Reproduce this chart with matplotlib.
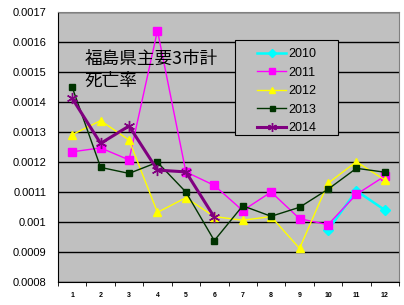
import numpy as np
import matplotlib.pyplot as plt
from matplotlib.patches import Rectangle

plt.rcParams['font.family'] = ['Liberation Sans', 'DejaVu Sans']

months = list(range(1, 13))
nan = np.nan
rate_2010 = [nan, nan, nan, nan, nan, nan, nan, nan, nan, 0.000973, 0.001104, 0.00104]
rate_2011 = [0.001234, 0.001247, 0.001207, 0.001638, 0.001167, 0.001122,
             0.001038, 0.0011, 0.001011, 0.000991, 0.001092, 0.001153]
rate_2012 = [0.001291, 0.001338, 0.001273, 0.001032, 0.001081, 0.001018,
             0.001006, 0.001018, 0.000912, 0.001129, 0.001201, 0.00114]
rate_2013 = [0.001449, 0.001182, 0.001162, 0.001199, 0.0011, 0.000938,
             0.001054, 0.001019, 0.001049, 0.001109, 0.001179, 0.001166]
rate_2014 = [0.001412, 0.001262, 0.00132, 0.001173, 0.001167, 0.001016,
             nan, nan, nan, nan, nan, nan]
y_ticks = [0.0008, 0.0009, 0.001, 0.0011, 0.0012, 0.0013, 0.0014, 0.0015, 0.0016, 0.0017]
y_labels = ['0.0008', '0.0009', '0.001', '0.0011', '0.0012', '0.0013',
            '0.0014', '0.0015', '0.0016', '0.0017']

fig = plt.figure(figsize=(4.04, 3.05), dpi=100)
ax = fig.add_axes([58 / 404, 23 / 305, 341 / 404, 270 / 305])
ax.set_facecolor('#C0C0C0')

x = np.arange(len(months))
ax.plot(x, rate_2010, color='#00FFFF', lw=1.8, marker='D', ms=5, label='2010', zorder=3)
ax.plot(x, rate_2011, color='#FF00FF', lw=1, marker='s', ms=6, label='2011', zorder=3)
ax.plot(x, rate_2012, color='#FFFF00', lw=1, marker='^', ms=6, label='2012', zorder=3)
ax.plot(x, rate_2013, color='#003300', lw=1, marker='s', ms=4.5, label='2013', zorder=3)
ax.plot(x, rate_2014, color='#800080', lw=2.2, marker=(6, 2, 0), ms=8, mew=1,
        label='2014', zorder=3)

ax.set_xlim(-0.5, 11.5)
ax.set_ylim(0.0008, 0.0017)
ax.set_yticks(y_ticks)
ax.set_yticklabels(y_labels, fontsize=8)
ax.tick_params(axis='y', length=0, pad=8.5)
ax.set_xticks(x)
ax.set_xticklabels([str(m) for m in months], fontsize=5, fontweight='bold')
ax.set_xticks(np.arange(-0.5, 12, 1), minor=True)
ax.tick_params(axis='x', which='major', length=0, pad=7)
ax.tick_params(axis='x', which='minor', length=3, direction='out')
ax.grid(axis='y', color='black', lw=1, zorder=1)

for side in ['top', 'right']:
    ax.spines[side].set_color('#808080')
for side in ['left', 'bottom']:
    ax.spines[side].set_color('black')

cjk = ['Noto Sans CJK JP', 'DejaVu Sans']
ax.text(0.077, 0.826, '福島県主要3市計', transform=ax.transAxes,
        fontsize=12.7, family=cjk, va='center', ha='left')
ax.text(0.077, 0.744, '死亡率', transform=ax.transAxes,
        fontsize=12.7, family=cjk, va='center', ha='left')

# legend box drawn separately to get Excel-like padding
ax.add_patch(Rectangle((0.519, 0.544), 0.302, 0.352, transform=ax.transAxes,
                       facecolor='#C0C0C0', edgecolor='black', lw=0.8, zorder=4))
leg = ax.legend(loc='upper left', bbox_to_anchor=(0.585, 0.866), fontsize=9,
                frameon=False, handlelength=2.3, labelspacing=0.52,
                borderpad=0, borderaxespad=0, handletextpad=0.15,
                markerscale=0.8)
leg.set_zorder(5)

fig.savefig('out.png', dpi=100)
